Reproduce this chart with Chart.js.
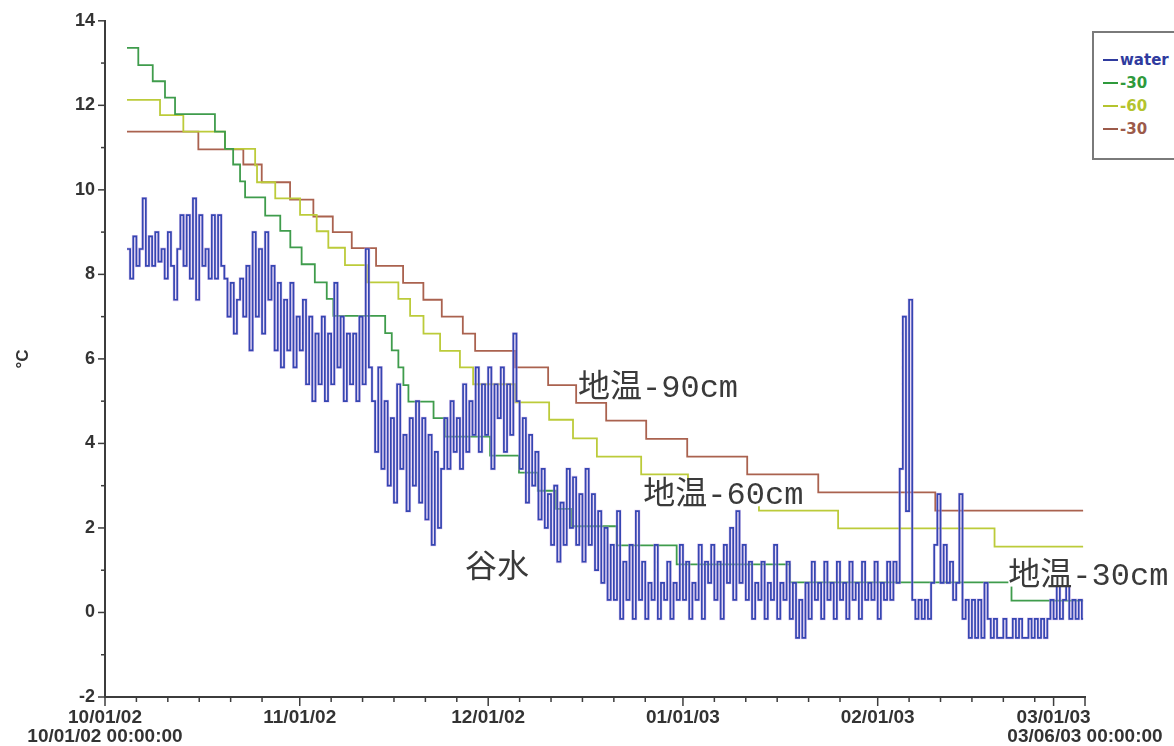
<!DOCTYPE html>
<html><head><meta charset="utf-8">
<script src="https://cdn.jsdelivr.net/npm/chart.js@4.4.1/dist/chart.umd.min.js"></script>
<style>
html,body{margin:0;padding:0;background:#fff;}
#wrap{position:relative;width:1174px;height:746px;overflow:hidden;background:#fff;}
#c{position:absolute;left:0;top:0;}
#legend{position:absolute;left:1092px;top:31px;width:110px;height:129px;border:2px solid #7a7a7a;box-sizing:border-box;font:bold 15px "DejaVu Sans",sans-serif;padding-top:16px;background:#fff;}
.li{height:23px;line-height:23px;white-space:nowrap;padding-left:9px;}
.dash{display:inline-block;width:15px;height:2px;vertical-align:middle;margin-right:2px;position:relative;top:-1px;}
</style></head>
<body>
<div id="wrap">
<canvas id="c" width="1174" height="746"></canvas>
<div id="legend"></div>
</div>
<script>
// ---- data (days since 10/01/02) ----
const monthTickDays = [0, 31, 61, 92, 123, 151, 156];
const monthTickLabels = [['10/01/02', '10/01/02 00:00:00'], '11/01/02', '12/01/02', '01/01/03', '02/01/03', '03/01/03', ['', '03/06/03 00:00:00']];
const minorTickDays = [5,10,15,20,25, 36,41,46,51,56, 66,71,76,81,86, 97,102,107,112,117, 128,133,138,143,148];
const yMajorTicks = [-2, 0, 2, 4, 6, 8, 10, 12, 14];
const yMinorTicks = [-1, 1, 3, 5, 7, 9, 11, 13];

const seriesNames = ['water', '-30', '-60', '-30'];

const waterStartDay = 3.5;
const waterStepDays = 0.5;
const waterEndDay = 155.7;
const waterValues = [
  8.6, 7.9, 8.9, 8.2, 8.6, 9.8, 8.2, 8.9, 8.2, 9.0, 8.3,
  8.6, 7.9, 9.0, 8.2, 7.4, 8.6, 9.4, 8.2, 9.4, 7.9,
  9.8, 7.4, 9.4, 8.2, 8.6, 7.9, 9.4, 7.9, 9.4, 8.2,
  7.9, 7.0, 7.8, 6.6, 7.4, 7.9, 7.0, 8.2, 6.2, 9.0,
  7.0, 8.6, 6.6, 9.0, 7.4, 8.2, 6.2, 7.8, 5.8, 7.4,
  6.2, 7.8, 5.8, 7.0, 6.2, 7.4, 5.4, 7.0, 5.0, 6.6,
  5.4, 7.0, 5.0, 6.6, 5.4, 7.8, 5.8, 7.0, 5.0, 6.6,
  5.4, 6.6, 5.0, 7.0, 5.4, 8.6, 5.8, 5.0, 3.8, 5.8,
  3.4, 5.0, 3.0, 4.6, 2.6, 5.4, 3.4, 4.2, 2.4, 4.6,
  3.0, 5.0, 2.6, 4.6, 2.2, 4.2, 1.6, 3.8, 2.0, 3.4,
  4.6, 3.4, 5.0, 3.8, 4.6, 3.4, 5.4, 3.8, 5.0, 4.2,
  5.8, 3.8, 5.4, 4.2, 5.8, 3.4, 5.4, 4.6, 5.8, 3.8,
  5.4, 4.2, 6.6, 5.0, 3.4, 4.6, 2.6, 4.2, 3.0, 3.8,
  2.2, 3.4, 2.0, 2.8, 1.6, 3.0, 1.2, 2.6, 1.6, 3.4,
  2.0, 3.2, 1.6, 2.8, 1.2, 3.4, 1.6, 2.8, 1.0, 2.4,
  0.7, 2.0, 0.3, 1.6, 0.3, 2.4, -0.15, 1.2, 0.3, 1.6,
  -0.15, 2.4, 0.3, 1.2, -0.15, 0.7, 0.3, 1.6, -0.15, 0.7,
  0.3, 1.2, -0.15, 0.7, 0.3, 1.6, 0.3, 1.2, -0.15, 0.7,
  0.3, 1.6, -0.15, 1.2, 0.7, 1.6, 0.3, 1.2, -0.15, 1.6,
  0.7, 2.0, 0.3, 2.4, 0.7, 1.6, 0.3, 1.2, -0.15, 0.7,
  0.3, 1.2, -0.15, 0.7, 0.3, 1.6, -0.15, 0.7, 0.3, 1.2,
  -0.15, 0.7, -0.6, 0.3, -0.6, 0.7, -0.15, 1.2, 0.3, 0.7,
  -0.15, 1.2, 0.3, 0.7, -0.15, 1.2, 0.3, 0.7, -0.15, 1.2,
  0.3, 0.7, -0.15, 1.2, 0.3, 0.7, 0.3, 1.2, -0.15, 0.7,
  0.3, 1.2, 0.3, 1.2, 0.7, 3.4, 7.0, 2.4, 7.4, 0.3,
  -0.15, 0.3, -0.15, 0.3, -0.15, 0.7, 1.6, 2.8, 0.7, 1.6,
  0.7, 1.2, 0.3, 0.7, 2.8, -0.15, 0.3, -0.6, 0.3, -0.6,
  0.3, -0.6, 0.7, -0.15, -0.6, -0.15, -0.6, -0.6, -0.15, -0.6,
  -0.6, -0.15, -0.6, -0.15, -0.6, -0.6, -0.15, -0.6, -0.15, -0.6,
  -0.15, -0.6, -0.15, 0.3, -0.15, 0.7, -0.15, 0.3, 0.7, -0.15,
  0.3, -0.15, 0.3, -0.15
];

const soil30Days = [3.5,5.3,7.6,9.55,11.15,17.5,19.1,20.4,21.5,22.3,25.5,27.9,29.5,31.3,33.4,35.3,36.35,44.6,45.65,46.7,47.5,48.3,52.3,54.1,61.3,65.9,68.9,71.8,74.2,81.45,91.0,109.0,144.3,155.7];
const soil30Values = [13.36,12.95,12.57,12.18,11.79,11.38,10.97,10.6,10.2,9.82,9.39,9.03,8.64,8.24,7.81,7.42,7.02,6.61,6.2,5.8,5.38,4.99,4.6,4.16,3.71,3.31,2.88,2.45,2.04,1.59,1.14,0.71,0.28,0.28];

const soil60Days = [3.5,8.76,12.47,19.1,23.9,24.2,27.1,31.05,33.7,35.55,38.2,41.7,46.7,48.57,50.7,53.34,56.5,58.6,65.3,70.7,74.5,78.3,85.35,92.8,104.1,116.7,141.6,155.7];
const soil60Values = [12.13,11.77,11.38,10.97,10.58,10.18,9.8,9.41,9.02,8.63,8.22,7.81,7.42,7.02,6.6,6.19,5.8,5.4,4.97,4.56,4.12,3.69,3.27,2.84,2.41,1.99,1.56,1.56];

const soil90Days = [3.5,14.86,22.02,24.95,29.46,33.17,36.26,39.28,43.15,47.45,50.68,53.61,56.96,58.92,65.29,70.54,75.0,79.78,86.15,92.68,102.23,113.54,132.17,155.7];
const soil90Values = [11.38,10.96,10.6,10.18,9.77,9.37,9.0,8.62,8.2,7.8,7.4,7.0,6.6,6.19,5.8,5.38,4.96,4.54,4.11,3.69,3.27,2.84,2.41,2.41];

const annotations = [
  {text: '地温-90cm', day: 75.3, value: 5.09},
  {text: '地温-60cm', day: 85.7, value: 2.56},
  {text: '谷水', day: 57.3, value: 0.83},
  {text: '地温-30cm', day: 143.8, value: 0.66}
];

// ---- build ----
const colors = {water: '#3546b2', halo: 'rgba(200,168,230,0.6)', s30: '#3f9c4c', s60: '#bccb3a', s90: '#aa624f'};
const legendColors = ['#2f3b9e', '#2f9a3c', '#b4c42e', '#9c5a4a'];

const waterPts = waterValues.map((v, i) => ({x: waterStartDay + i * waterStepDays, y: v}));
waterPts.push({x: waterEndDay, y: waterValues[waterValues.length - 1]});
const toPts = (d, v) => d.map((x, i) => ({x: x, y: v[i]}));

const lineDs = (label, data, color, width) => ({
  label, data, borderColor: color, borderWidth: width, stepped: true,
  pointRadius: 0, fill: false, tension: 0
});

const datasets = [
  lineDs(seriesNames[0], waterPts, colors.water, 1.7),
  lineDs('halo', waterPts, colors.halo, 2.8),
  lineDs(seriesNames[1], toPts(soil30Days, soil30Values), colors.s30, 1.8),
  lineDs(seriesNames[2], toPts(soil60Days, soil60Values), colors.s60, 1.8),
  lineDs(seriesNames[3], toPts(soil90Days, soil90Values), colors.s90, 1.8)
];

const axisColor = '#3c3c3c';

const tickMarks = {
  id: 'tickMarks',
  afterDraw(chart) {
    const {ctx, chartArea, scales: {x, y}} = chart;
    ctx.save();
    ctx.strokeStyle = axisColor;
    ctx.lineWidth = 1.5;
    const line = (x1, y1, x2, y2) => { ctx.beginPath(); ctx.moveTo(x1, y1); ctx.lineTo(x2, y2); ctx.stroke(); };
    monthTickDays.forEach(d => { const p = x.getPixelForValue(d); line(p, chartArea.bottom, p, chartArea.bottom + 9); });
    minorTickDays.forEach(d => { const p = x.getPixelForValue(d); line(p, chartArea.bottom, p, chartArea.bottom + 5); });
    yMajorTicks.forEach(v => { const p = y.getPixelForValue(v); line(chartArea.left - 7, p, chartArea.left, p); });
    yMinorTicks.forEach(v => { const p = y.getPixelForValue(v); line(chartArea.left - 4, p, chartArea.left, p); });
    ctx.restore();
  }
};

const textNotes = {
  id: 'textNotes',
  afterDatasetsDraw(chart) {
    const {ctx, scales: {x, y}} = chart;
    ctx.save();
    ctx.font = '32px "Liberation Mono", "Noto Sans CJK SC", monospace';
    ctx.textBaseline = 'alphabetic';
    ctx.textAlign = 'left';
    annotations.forEach(a => {
      const px = x.getPixelForValue(a.day), py = y.getPixelForValue(a.value);
      const w = ctx.measureText(a.text).width;
      ctx.fillStyle = '#ffffff';
      ctx.fillRect(px, py - 24, w, 26);
      ctx.fillStyle = '#3a3a3a';
      ctx.fillText(a.text, px, py);
    });
    ctx.restore();
  }
};

new Chart(document.getElementById('c'), {
  type: 'line',
  data: {datasets},
  options: {
    responsive: false,
    animation: false,
    events: [],
    layout: {padding: {left: 0, top: 20, right: 89, bottom: 0}},
    plugins: {legend: {display: false}, tooltip: {enabled: false}},
    scales: {
      x: {
        type: 'linear', min: 0, max: 156, offset: false,
        afterBuildTicks: (axis) => { axis.ticks = monthTickDays.map(v => ({value: v})); },
        afterFit: (axis) => { axis.height = 49; },
        grid: {display: true, drawOnChartArea: false, drawTicks: false, color: 'rgba(0,0,0,0)'},
        border: {display: true, color: axisColor, width: 2},
        ticks: {
          autoSkip: false, maxRotation: 0, minRotation: 0, padding: 11,
          color: '#333', font: {family: '"Liberation Sans", Arial, sans-serif', size: 19, weight: 'bold', lineHeight: 1.02},
          callback: (value, index) => monthTickLabels[index]
        }
      },
      y: {
        type: 'linear', min: -2, max: 14,
        afterFit: (axis) => { axis.width = 105; },
        grid: {display: true, drawOnChartArea: false, drawTicks: false, color: 'rgba(0,0,0,0)'},
        border: {display: true, color: axisColor, width: 2},
        ticks: {
          stepSize: 2, padding: 10, color: '#333',
          font: {family: '"Liberation Sans", Arial, sans-serif', size: 18, weight: 'bold'}
        },
        title: {
          display: true, text: '°C', color: '#333', padding: {top: 13, bottom: 0},
          font: {family: '"Liberation Sans", Arial, sans-serif', size: 17, weight: 'bold'}
        }
      }
    }
  },
  plugins: [tickMarks, textNotes]
});

// legend
const leg = document.getElementById('legend');
seriesNames.forEach((n, i) => {
  const row = document.createElement('div');
  row.className = 'li';
  row.style.color = legendColors[i];
  const d = document.createElement('span');
  d.className = 'dash';
  d.style.background = legendColors[i];
  row.appendChild(d);
  row.appendChild(document.createTextNode(n));
  leg.appendChild(row);
});
</script>
</body></html>
